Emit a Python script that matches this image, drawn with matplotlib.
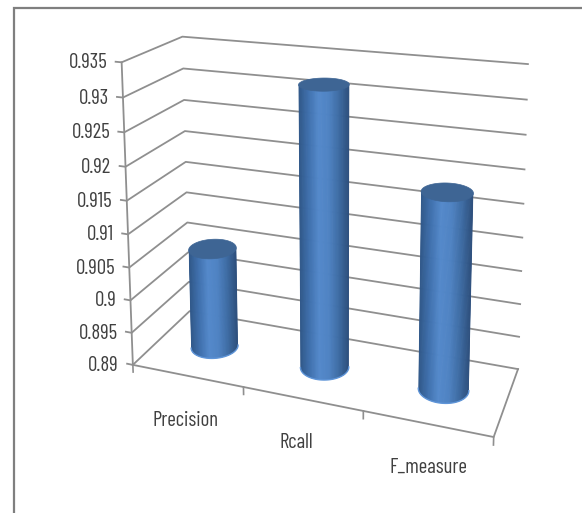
import numpy as np
import matplotlib
matplotlib.use('Agg')
import matplotlib.pyplot as plt
from matplotlib.colors import LinearSegmentedColormap
from matplotlib.patches import Polygon

categorias = ['Precision', 'Rcall', 'F_measure']
valores = [0.9055, 0.932, 0.9187]
ticks_y = [0.89, 0.895, 0.9, 0.905, 0.91, 0.915, 0.92, 0.925, 0.93, 0.935]
etiquetas_y = ['0.89', '0.895', '0.9', '0.905', '0.91', '0.915', '0.92', '0.925', '0.93', '0.935']

plt.rcParams['font.family'] = ['Barlow Condensed', 'Liberation Sans', 'DejaVu Sans']

W, H = 582, 513
fig = plt.figure(figsize=(W / 100, H / 100), dpi=100)
ax = fig.add_axes([0, 0, 1, 1])
ax.set_xlim(0, W)
ax.set_ylim(H, 0)
ax.axis('off')

## Camara: caja (x, prof, z) -> pixel, resuelta con las esquinas de la caja

ref_caja = [(0, 0, 0), (0, 0, 1), (0, 1, 0), (0, 1, 1), (1, 1, 0), (1, 1, 1), (1, 0, 0),
            (1 / 3, 0, 0), (2 / 3, 0, 0)]
ref_pix = [(133, 365), (122, 62), (190, 310), (182, 37), (518, 370), (528, 64), (494, 435),
           (243, 388), (363, 412)]

A = []
for (X, Y, Z), (u, v) in zip(ref_caja, ref_pix):
    A.append([X, Y, Z, 1, 0, 0, 0, 0, -u * X, -u * Y, -u * Z, -u])
    A.append([0, 0, 0, 0, X, Y, Z, 1, -v * X, -v * Y, -v * Z, -v])
P = np.linalg.svd(np.array(A))[2][-1].reshape(3, 4)


def proy(x, y, z):
    x, y, z = np.broadcast_arrays(x, y, z)
    q = P @ np.array([x, y, z, np.ones_like(x)], dtype=float)
    return q[0] / q[2], q[1] / q[2]


def z_de(valor):
    return (valor - ticks_y[0]) / (ticks_y[-1] - ticks_y[0])


## Marco de la figura

color_linea = '#8f8f8f'
ax.plot([14, 14, W], [H, 8, 8], color='#7f7f7f', lw=1.6, solid_joinstyle='miter')

## Paredes y lineas de la grilla

for v in ticks_y:
    z = z_de(v)
    xs, ys = proy([-0.018, 0, 0, 1], [0, 0, 1, 1], [z, z, z, z])
    ax.plot(xs, ys, color=color_linea, lw=1.3, zorder=1)

xs, ys = proy([0, 0], [0, 0], [0, 1])
ax.plot(xs, ys, color=color_linea, lw=1.3, zorder=1)

xs, ys = proy([0, 1, 1], [0, 0, 1], [0, 0, 0])
ax.plot(xs, ys, color=color_linea, lw=1.3, zorder=1)

for t in [0, 1 / 3, 2 / 3, 1]:
    xs, ys = proy([t, t], [0, 0], [0, -0.025])
    ax.plot(xs, ys, color=color_linea, lw=1.2, zorder=1)

for v, et in zip(ticks_y, etiquetas_y):
    xs, ys = proy(0, 0, z_de(v))
    ax.text(float(xs) - 14, float(ys) + 0.5, et, ha='right', va='center', fontsize=15, color='#404040')

## Cilindros

cmap = LinearSegmentedColormap.from_list('cil', ['#2f5687', '#3f70ad', '#5489cb', '#4f83c3', '#3e6ca4', '#2d4f7c'])
radio_x, radio_y = 0.066, 0.2
ang = np.linspace(0, 2 * np.pi, 241)
n_tiras = 60

for i, valor in enumerate(valores):
    cx = (i + 0.5) / 3
    px = cx + radio_x * np.cos(ang)
    py = 0.5 + radio_y * np.sin(ang)
    xb, yb = proy(px, py, 0)
    xt, yt = proy(px, py, z_de(valor))

    # silueta: arco frontal de la base mas los extremos de la tapa
    izq, der = np.argmin(xb[:-1]), np.argmax(xb[:-1])
    if der < izq:
        der += 240
    arco = [k % 240 for k in range(izq, der + 1)]
    silueta = [(xb[k], yb[k]) for k in arco]
    silueta.append((xt.max(), yt[np.argmax(xt)]))
    silueta.append((xt.min(), yt[np.argmin(xt)]))
    cuerpo = Polygon(silueta, closed=True, facecolor='none', edgecolor='none', zorder=3 + i)
    ax.add_patch(cuerpo)

    # degradado en tiras siguiendo la inclinacion del cilindro
    for s in range(n_tiras):
        s0, s1 = s / n_tiras, (s + 1) / n_tiras
        abajo0 = xb.min() + s0 * (xb.max() - xb.min())
        abajo1 = xb.min() + s1 * (xb.max() - xb.min())
        arriba0 = xt.min() + s0 * (xt.max() - xt.min())
        arriba1 = xt.min() + s1 * (xt.max() - xt.min())
        c = cmap((s0 + s1) / 2)
        tira = Polygon([(abajo0, yb.max()), (abajo1, yb.max()), (arriba1, yt.min()), (arriba0, yt.min())],
                       closed=True, facecolor=c, edgecolor=c, lw=0.5, zorder=3 + i)
        ax.add_patch(tira)
        tira.set_clip_path(cuerpo)

    ax.plot([p[0] for p in silueta[:-2]], [p[1] for p in silueta[:-2]], color='#5f95d8', lw=1.0, zorder=3.4 + i)
    ax.add_patch(Polygon(np.column_stack([xt, yt]), closed=True, facecolor='#3e6594', edgecolor='#3e6594',
                         lw=0.5, zorder=3.5 + i))

## Etiquetas de categorias

pos_cat = [(186, 420), (296, 442), (428, 467)]
for nombre, (x, y) in zip(categorias, pos_cat):
    ax.text(x, y, nombre, ha='center', va='center', fontsize=15, color='#404040')

fig.savefig('out.png', dpi=100)
